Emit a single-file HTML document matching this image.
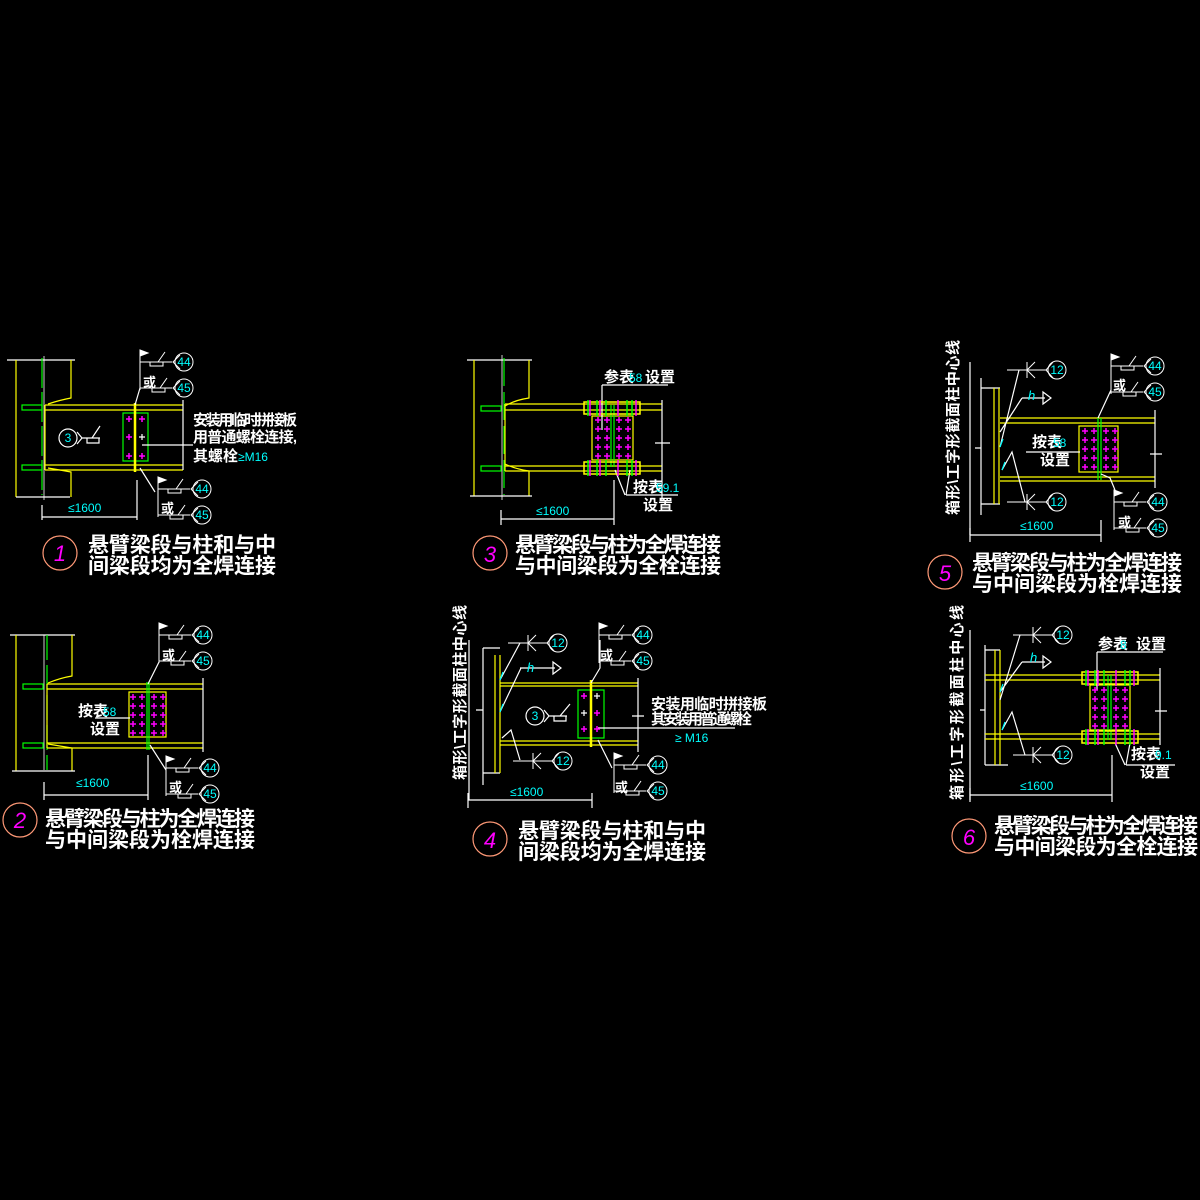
<!DOCTYPE html>
<html><head><meta charset="utf-8"><style>
html,body{margin:0;padding:0;background:#000;}
svg{display:block}
text{font-family:"Liberation Sans","Noto Sans CJK SC",sans-serif;}
.w{fill:#fff;font-weight:bold;font-family:"Liberation Sans","Noto Sans CJK SC",sans-serif;}
.c{fill:#00ffff;font-size:12px;}
</style></head><body>
<svg width="1200" height="1200" viewBox="0 0 1200 1200" xmlns="http://www.w3.org/2000/svg">
<rect width="1200" height="1200" fill="#000"/>
<defs>
<g id="ws" fill="none" stroke="#fff" stroke-width="1">
<line x1="0" y1="0" x2="0" y2="40"/>
<polygon points="0,0 8,3 0,6" fill="#fff"/>
<line x1="0" y1="12" x2="32" y2="12"/>
<rect x="10" y="12" width="13" height="4"/>
<line x1="18" y1="12" x2="25" y2="2"/>
<polyline points="40,5 33,12 40,19"/>
<circle cx="44" cy="12" r="9"/>
<line x1="0" y1="38" x2="32" y2="38"/>
<rect x="12" y="38" width="13" height="4"/>
<line x1="20" y1="38" x2="27" y2="28"/>
<polyline points="40,31 33,38 40,45"/>
<circle cx="44" cy="38" r="9"/>
</g>
<g id="k12" fill="none" stroke="#fff" stroke-width="1">
<circle cx="0" cy="0" r="9"/>
<polyline points="-4,-8 -11,0 -4,8"/>
<line x1="-50" y1="0" x2="-11" y2="0"/>
<line x1="-30" y1="-8" x2="-30" y2="8"/>
<line x1="-30" y1="0" x2="-22" y2="-8"/>
<line x1="-30" y1="0" x2="-22" y2="8"/>
</g>
<path id="brow" d="M-3,0h6M0,-3v6M6,0h6M9,-3v6M18,0h6M21,-3v6M27,0h6M30,-3v6"/>
<g id="bolts20" stroke="#ff00ff" stroke-width="1.5">
<use href="#brow" y="0"/><use href="#brow" y="9"/><use href="#brow" y="18"/><use href="#brow" y="27"/><use href="#brow" y="36"/>
</g>
<g id="splice" fill="none" stroke-width="1.5">
<rect x="0" y="0" width="56" height="12" stroke="#ffff00"/>
<path d="M4,-2v16M13,-2v16M22,-2v16M43,-2v16M48,-2v16" stroke="#00ff00"/>
<path d="M6,-2v16M16,-2v16M34,-2v16M52,-2v16" stroke="#ff00ff"/>
</g>
</defs>

<!-- ================= PANEL 1 ================= -->
<g fill="none" stroke-width="1.2">
<line x1="7" y1="360" x2="75" y2="360" stroke="#fff"/>
<line x1="16" y1="360" x2="16" y2="497" stroke="#ffff00"/>
<path d="M71,360V398Q60,400 48,404M71,497V472Q60,470 48,468" stroke="#ffff00"/>
<line x1="16" y1="497" x2="70" y2="497" stroke="#fff"/>
<path d="M42,358V495" stroke="#00ff00" stroke-dasharray="30,4"/>
<path d="M44,356V500" stroke="#fff" stroke-width="0.8"/>
<rect x="22" y="405" width="20" height="5" stroke="#00ff00"/>
<rect x="22" y="465" width="20" height="5" stroke="#00ff00"/>
<path d="M45,405H183M45,410H183M45,465H183M45,470H183" stroke="#ffff00"/>
<path d="M45,405V470" stroke="#ffff00"/>
<path d="M183,400V470" stroke="#fff"/>
<rect x="123" y="413" width="25" height="48" stroke="#00ff00"/>
<line x1="135" y1="403" x2="135" y2="472" stroke="#ffff00" stroke-width="2.5"/>
<path d="M142,445H193" stroke="#fff"/>
<path d="M42,505V520M137,480V520M42,517H137" stroke="#fff"/>
<path d="M140,388L135,405M140,468L155,492" stroke="#fff"/>
<circle cx="68" cy="438" r="9" stroke="#fff"/>
<path d="M77,432L82,438L77,444M82,438H100M87,438v5h12v-5M92,438L100,426" stroke="#fff"/>
<circle cx="60" cy="553" r="17" stroke="#ff9977"/>
</g>
<g stroke="#ff00ff" stroke-width="1.5"><path d="M126,419h6M129,416v6M139,419h6M142,416v6M126,437h6M129,434v6M126,456h6M129,453v6M139,456h6M142,453v6"/></g>
<path d="M139,437h6M142,434v6" stroke="#fff" stroke-width="1.2"/>
<use href="#ws" x="140" y="350"/>
<use href="#ws" x="158" y="477"/>
<text x="184" y="366" class="c" text-anchor="middle">44</text>
<text x="184" y="392" class="c" text-anchor="middle">45</text>
<text x="202" y="493" class="c" text-anchor="middle">44</text>
<text x="202" y="519" class="c" text-anchor="middle">45</text>
<text x="143" y="387" class="w" font-size="13">或</text>
<text x="161" y="513" class="w" font-size="13">或</text>
<text x="68" y="442" class="c" text-anchor="middle">3</text>
<text x="193" y="425" class="w" font-size="15" textLength="104">安装用临时拼接板</text>
<text x="193" y="442" class="w" font-size="15" textLength="104">用普通螺栓连接,</text>
<text x="193" y="461" class="w" font-size="15">其螺栓</text>
<text x="238" y="461" class="c">≥M16</text>
<text x="68" y="512" class="c">≤1600</text>
<text x="60" y="561" fill="#ff00ff" font-size="22" font-style="italic" text-anchor="middle">1</text>
<text x="88" y="552" class="w" font-size="21" textLength="188">悬臂梁段与柱和与中</text>
<text x="88" y="573" class="w" font-size="21" textLength="188">间梁段均为全焊连接</text>

<!-- ================= PANEL 2 ================= -->
<g fill="none" stroke-width="1.2">
<line x1="10" y1="635" x2="75" y2="635" stroke="#fff"/>
<line x1="16" y1="635" x2="16" y2="771" stroke="#ffff00"/>
<path d="M72,635V676Q60,678 48,683M72,771V748Q60,746 48,744" stroke="#ffff00"/>
<line x1="12" y1="771" x2="75" y2="771" stroke="#fff"/>
<path d="M44,635V770" stroke="#fff" stroke-width="0.8"/>
<path d="M47,635V770" stroke="#00ff00" stroke-dasharray="25,5"/>
<rect x="23" y="684" width="20" height="5" stroke="#00ff00"/>
<rect x="23" y="743" width="20" height="5" stroke="#00ff00"/>
<path d="M47,684H203M47,689H203M47,743H203M47,748H203" stroke="#ffff00"/>
<path d="M47,684V748" stroke="#ffff00"/>
<path d="M203,678V752" stroke="#fff"/>
<rect x="129" y="692" width="37" height="45" stroke="#ffff00"/>
<path d="M147,682V750M149,682V750" stroke="#00ff00"/>
<path d="M95,718H130" stroke="#fff"/>
<path d="M44,782V800M148,755V800M44,795H148" stroke="#fff"/>
<path d="M159,662L148,684M150,745L166,770" stroke="#fff"/>
<circle cx="20" cy="820" r="17" stroke="#ff9977"/>
</g>
<use href="#bolts20" x="133" y="697"/>
<use href="#ws" x="159" y="623"/>
<use href="#ws" x="166" y="756"/>
<text x="203" y="639" class="c" text-anchor="middle">44</text>
<text x="203" y="665" class="c" text-anchor="middle">45</text>
<text x="210" y="772" class="c" text-anchor="middle">44</text>
<text x="210" y="798" class="c" text-anchor="middle">45</text>
<text x="162" y="660" class="w" font-size="13">或</text>
<text x="169" y="792" class="w" font-size="13">或</text>
<text x="78" y="716" class="w" font-size="15">按表</text>
<text x="103" y="716" class="c">58</text>
<text x="90" y="734" class="w" font-size="15">设置</text>
<text x="76" y="787" class="c">≤1600</text>
<text x="20" y="828" fill="#ff00ff" font-size="22" font-style="italic" text-anchor="middle">2</text>
<text x="45" y="826" class="w" font-size="21" textLength="210">悬臂梁段与柱为全焊连接</text>
<text x="45" y="847" class="w" font-size="21" textLength="210">与中间梁段为栓焊连接</text>

<!-- ================= PANEL 3 ================= -->
<g fill="none" stroke-width="1.2">
<line x1="467" y1="360" x2="532" y2="360" stroke="#fff"/>
<line x1="474" y1="360" x2="474" y2="496" stroke="#ffff00"/>
<path d="M529,360V398Q515,400 505,406M529,496V471Q515,469 505,464" stroke="#ffff00"/>
<line x1="470" y1="496" x2="532" y2="496" stroke="#fff"/>
<path d="M502,355V500" stroke="#fff" stroke-width="0.8"/>
<path d="M504,358V495" stroke="#00ff00" stroke-dasharray="28,6"/>
<rect x="481" y="406" width="20" height="5" stroke="#00ff00"/>
<rect x="481" y="466" width="20" height="5" stroke="#00ff00"/>
<path d="M505,404H662M505,410H662M505,466H662M505,471H662" stroke="#ffff00"/>
<path d="M505,404V471" stroke="#ffff00"/>
<path d="M662,400V500M655,443h8M662,443h8" stroke="#fff"/>
<rect x="592" y="416" width="41" height="44" stroke="#ffff00"/>
<path d="M611,405V467M614,405V467" stroke="#00ff00"/>
<path d="M602,385H668M602,385V430" stroke="#fff"/>
<path d="M615,470L625,495M630,470L626,495M626,495H678" stroke="#fff"/>
<path d="M501,510V525M614,480V525M501,519H614" stroke="#fff"/>
<circle cx="490" cy="553" r="17" stroke="#ff9977"/>
</g>
<use href="#splice" x="584" y="402"/>
<use href="#splice" x="584" y="462"/>
<use href="#bolts20" x="598" y="420"/>
<text x="604" y="382" class="w" font-size="15">参表</text>
<text x="629" y="382" class="c">58</text>
<text x="645" y="382" class="w" font-size="15">设置</text>
<text x="633" y="492" class="w" font-size="15">按表</text>
<text x="656" y="492" class="c">59.1</text>
<text x="643" y="510" class="w" font-size="15">设置</text>
<text x="536" y="515" class="c">≤1600</text>
<text x="490" y="562" fill="#ff00ff" font-size="22" font-style="italic" text-anchor="middle">3</text>
<text x="515" y="552" class="w" font-size="21" textLength="206">悬臂梁段与柱为全焊连接</text>
<text x="515" y="573" class="w" font-size="21" textLength="206">与中间梁段为全栓连接</text>

<!-- ================= PANEL 4 ================= -->
<g fill="none" stroke-width="1.2">
<line x1="469" y1="640" x2="469" y2="800" stroke="#fff"/>
<line x1="483" y1="648" x2="483" y2="785" stroke="#fff"/>
<path d="M483,648H500M483,773H500M476,710h7" stroke="#fff"/>
<path d="M495,655V773M500,655V773" stroke="#ffff00"/>
<path d="M500,683H638M500,686H638M500,741H638M500,745H638" stroke="#ffff00"/>
<path d="M638,678V752M632,716h12" stroke="#fff"/>
<rect x="578" y="690" width="26" height="48" stroke="#00ff00"/>
<line x1="591" y1="680" x2="591" y2="747" stroke="#ffff00" stroke-width="2.5"/>
<path d="M598,728H735" stroke="#fff"/>
<path d="M600,640V668L591,683M598,740L612,768" stroke="#fff"/>
<path d="M520,643L500,680M521,668L500,712M511,730L502,738L511,730L520,760" stroke="#fff"/>
<path d="M500,680l3,-8M500,712l3,-8" stroke="#00ffff"/>
<path d="M520,668H555M553,662l8,6l-8,6z" stroke="#fff"/>
<circle cx="535" cy="716" r="9" stroke="#fff"/>
<path d="M544,710L549,716L544,722M549,716H567M554,716v5h12v-5M560,716L570,704" stroke="#fff"/>
<path d="M468,793V808M592,793V808M468,800H592" stroke="#fff"/>
<circle cx="490" cy="839" r="17" stroke="#ff9977"/>
</g>
<g stroke="#ff00ff" stroke-width="1.5"><path d="M581,696h6M584,693v6M581,729h6M584,726v6M594,713h6M597,710v6M594,729h6M597,726v6"/></g>
<path d="M581,713h6M584,710v6M594,696h6M597,693v6" stroke="#fff" stroke-width="1.2"/>
<use href="#k12" x="558" y="643"/>
<use href="#k12" x="563" y="761"/>
<use href="#ws" x="599" y="623"/>
<use href="#ws" x="614" y="753"/>
<text x="558" y="647" class="c" text-anchor="middle">12</text>
<text x="563" y="765" class="c" text-anchor="middle">12</text>
<text x="643" y="639" class="c" text-anchor="middle">44</text>
<text x="643" y="665" class="c" text-anchor="middle">45</text>
<text x="658" y="769" class="c" text-anchor="middle">44</text>
<text x="658" y="795" class="c" text-anchor="middle">45</text>
<text x="600" y="660" class="w" font-size="13">或</text>
<text x="615" y="792" class="w" font-size="13">或</text>
<text x="527" y="672" fill="#00ffff" font-size="13" font-style="italic">h</text>
<text x="535" y="720" class="c" text-anchor="middle">3</text>
<text x="651" y="709" class="w" font-size="15" textLength="116">安装用临时拼接板</text>
<text x="651" y="724" class="w" font-size="15" textLength="101">其安装用普通螺栓</text>
<text x="675" y="742" class="c">≥ M16</text>
<text x="510" y="796" class="c">≤1600</text>
<text transform="translate(465,780) rotate(-90)" class="w" font-size="15" textLength="175">箱形\工字形截面柱中心线</text>
<text x="490" y="848" fill="#ff00ff" font-size="22" font-style="italic" text-anchor="middle">4</text>
<text x="518" y="838" class="w" font-size="21" textLength="188">悬臂梁段与柱和与中</text>
<text x="518" y="859" class="w" font-size="21" textLength="188">间梁段均为全焊连接</text>

<!-- ================= PANEL 5 ================= -->
<g fill="none" stroke-width="1.2">
<line x1="970" y1="362" x2="970" y2="535" stroke="#fff"/>
<line x1="981" y1="378" x2="981" y2="515" stroke="#fff"/>
<path d="M981,388H1000M981,504H1000M975,448h6" stroke="#fff"/>
<path d="M994,388V504M999,388V504" stroke="#ffff00"/>
<path d="M1000,418H1155M1000,423H1155M1000,477H1155M1000,481H1155" stroke="#ffff00"/>
<path d="M1155,410V488M1150,454h12" stroke="#fff"/>
<rect x="1079" y="426" width="39" height="46" stroke="#ffff00"/>
<path d="M1098,418V480M1101,418V480" stroke="#00ff00"/>
<path d="M1026,452H1080" stroke="#fff"/>
<path d="M1111,390L1098,418M1115,490L1110,478L1101,474" stroke="#fff"/>
<path d="M1019,370L1000,447M1022,398L1000,432M1012,452L1002,470L1012,452L1025,502" stroke="#fff"/>
<path d="M1000,447l3,-8M1002,470l3,-8" stroke="#00ffff"/>
<path d="M1022,398H1045M1043,392l8,6l-8,6z" stroke="#fff"/>
<path d="M970,528V542M1101,520V542M970,535H1101" stroke="#fff"/>
<circle cx="945" cy="572" r="17" stroke="#ff9977"/>
</g>
<use href="#bolts20" x="1085" y="431"/>
<use href="#k12" x="1057" y="370"/>
<use href="#k12" x="1057" y="502"/>
<use href="#ws" x="1111" y="354"/>
<use href="#ws" x="1114" y="490"/>
<text x="1057" y="374" class="c" text-anchor="middle">12</text>
<text x="1057" y="506" class="c" text-anchor="middle">12</text>
<text x="1155" y="370" class="c" text-anchor="middle">44</text>
<text x="1155" y="396" class="c" text-anchor="middle">45</text>
<text x="1158" y="506" class="c" text-anchor="middle">44</text>
<text x="1158" y="532" class="c" text-anchor="middle">45</text>
<text x="1113" y="390" class="w" font-size="13">或</text>
<text x="1118" y="527" class="w" font-size="13">或</text>
<text x="1028" y="400" fill="#00ffff" font-size="13" font-style="italic">h</text>
<text x="1032" y="447" class="w" font-size="15">按表</text>
<text x="1053" y="447" class="c">58</text>
<text x="1040" y="465" class="w" font-size="15">设置</text>
<text x="1020" y="530" class="c">≤1600</text>
<text transform="translate(958,515) rotate(-90)" class="w" font-size="15" textLength="175">箱形\工字形截面柱中心线</text>
<text x="945" y="581" fill="#ff00ff" font-size="22" font-style="italic" text-anchor="middle">5</text>
<text x="972" y="570" class="w" font-size="21" textLength="210">悬臂梁段与柱为全焊连接</text>
<text x="972" y="591" class="w" font-size="21" textLength="210">与中间梁段为栓焊连接</text>

<!-- ================= PANEL 6 ================= -->
<g fill="none" stroke-width="1.2">
<line x1="970" y1="630" x2="970" y2="800" stroke="#fff"/>
<line x1="985" y1="645" x2="985" y2="765" stroke="#fff"/>
<path d="M985,650H1000M985,765H1008M980,710h5" stroke="#fff"/>
<path d="M995,650V765M1000,650V765" stroke="#ffff00"/>
<path d="M985,675H1160M985,680H1160M985,734H1160M985,739H1160" stroke="#ffff00"/>
<path d="M1160,668V745M1155,711h12" stroke="#fff"/>
<rect x="1090" y="685" width="40" height="45" stroke="#ffff00"/>
<path d="M1108,675V740M1111,675V740" stroke="#00ff00"/>
<path d="M1097,652H1163M1097,652V690" stroke="#fff"/>
<path d="M1115,743L1125,765M1130,743L1126,765M1126,765H1175" stroke="#fff"/>
<path d="M1020,635L1000,700M1022,662L1000,692M1012,712L1002,730L1012,712L1025,755" stroke="#fff"/>
<path d="M1000,692l3,-8M1002,730l3,-8" stroke="#00ffff"/>
<path d="M1022,662H1045M1043,656l8,6l-8,6z" stroke="#fff"/>
<path d="M970,788V802M1112,755V802M970,795H1112" stroke="#fff"/>
<circle cx="969" cy="836" r="17" stroke="#ff9977"/>
</g>
<use href="#splice" x="1082" y="672"/>
<use href="#splice" x="1082" y="731"/>
<use href="#bolts20" x="1095" y="690"/>
<use href="#k12" x="1063" y="635"/>
<use href="#k12" x="1063" y="755"/>
<text x="1063" y="639" class="c" text-anchor="middle">12</text>
<text x="1063" y="759" class="c" text-anchor="middle">12</text>
<text x="1030" y="662" fill="#00ffff" font-size="13" font-style="italic">h</text>
<text x="1098" y="649" class="w" font-size="15">参表</text>
<text x="1120" y="649" class="c">8</text>
<text x="1136" y="649" class="w" font-size="15">设置</text>
<text x="1131" y="759" class="w" font-size="15">按表</text>
<text x="1155" y="759" class="c">9.1</text>
<text x="1140" y="777" class="w" font-size="15">设置</text>
<text x="1020" y="790" class="c">≤1600</text>
<text transform="translate(962,800) rotate(-90)" class="w" font-size="15" textLength="195">箱形\工字形截面柱中心线</text>
<text x="969" y="845" fill="#ff00ff" font-size="22" font-style="italic" text-anchor="middle">6</text>
<text x="994" y="833" class="w" font-size="21" textLength="204">悬臂梁段与柱为全焊连接</text>
<text x="994" y="854" class="w" font-size="21" textLength="204">与中间梁段为全栓连接</text>
</svg>
</body></html>
